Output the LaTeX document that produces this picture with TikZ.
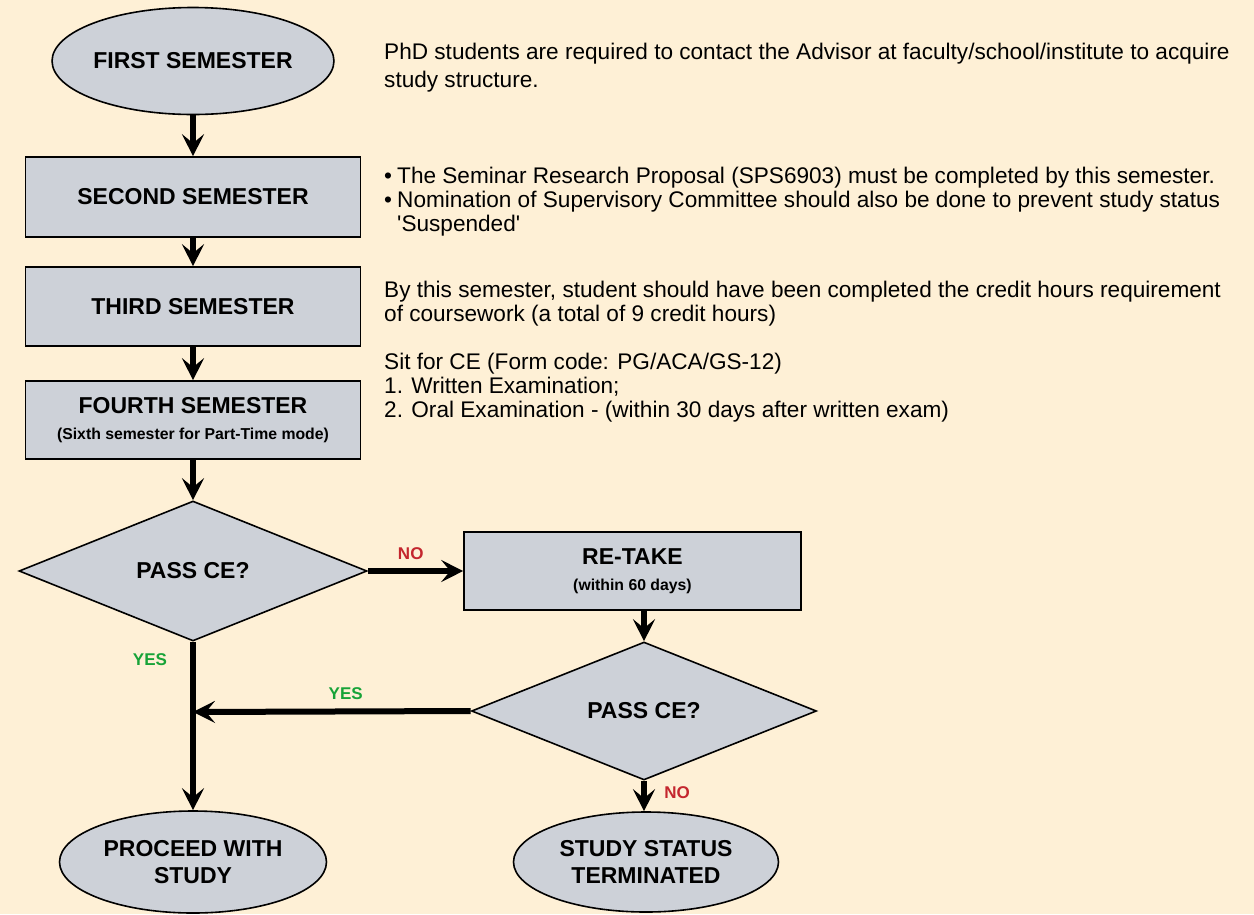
\documentclass[tikz,border=0pt]{standalone}
\usepackage{fontspec}
\setmainfont{Liberation Sans}
\usetikzlibrary{shapes.geometric,arrows.meta}
\definecolor{bgc}{HTML}{FEF0D6}
\definecolor{boxc}{HTML}{CDD1D8}
\definecolor{nored}{HTML}{C4262E}
\definecolor{yesgreen}{HTML}{17A338}
\tikzset{
  shapebase/.style={draw=black, fill=boxc, line width=1.6pt, inner sep=0pt, align=center, font=\bfseries\fontsize{23}{27}\selectfont},
  oval/.style={shapebase, ellipse},
  stepbox/.style={shapebase, rectangle, minimum width=335pt},
  decision/.style={shapebase, diamond, aspect=2.5},
  flow/.style={line width=6pt, -{Stealth[length=22pt,width=22pt,inset=9pt]}},
  note/.style={anchor=north west, inner sep=0pt, align=left, font=\fontsize{22.6}{24}\selectfont},
  nolabel/.style={text=nored, font=\bfseries\fontsize{17}{18}\selectfont},
  yeslabel/.style={text=yesgreen, font=\bfseries\fontsize{17}{18}\selectfont}
}
\newcommand{\subline}[1]{{\bfseries\fontsize{15.8}{18}\selectfont #1}}
\newcommand{\blt}{\makebox[13pt][l]{\textbullet}}
\begin{document}
\begin{tikzpicture}[x=1pt,y=-1pt]
\fill[bgc] (0,0) rectangle (1254,914);
\useasboundingbox (0,0) rectangle (1254,914);

\node[oval, minimum width=267pt, minimum height=107pt] (first) at (193,61) {FIRST SEMESTER};
\node[stepbox, minimum height=80pt] (second) at (193,197) {SECOND SEMESTER};
\node[stepbox, minimum height=79pt] (third) at (193,306.5) {THIRD SEMESTER};
\node[stepbox, minimum height=78pt] (fourth) at (193,420) {FOURTH SEMESTER\\[-1pt]\subline{(Sixth semester for Part-Time mode)}};
\node[decision, minimum width=348pt, minimum height=140pt] (d1) at (193,571) {PASS CE?};
\node[stepbox, minimum width=337pt, minimum height=78pt] (retake) at (632.5,571) {RE-TAKE\\[-1pt]\subline{(within 60 days)}};
\node[decision, minimum width=345pt, minimum height=138pt] (d2) at (644,711) {PASS CE?};
\node[oval, minimum width=267pt, minimum height=102pt] (proceed) at (193,862) {PROCEED WITH\\STUDY};
\node[oval, minimum width=265pt, minimum height=100pt] (term) at (646,862) {STUDY STATUS\\TERMINATED};
\coordinate (join) at (193,712);

\draw[flow] (first.south) -- (second.north);
\draw[flow] (second.south) -- (third.north);
\draw[flow] (third.south) -- (fourth.north);
\draw[flow] (fourth.south) -- (d1.north);
\draw[flow] (d1.east) -- node[nolabel, above=5pt, pos=0.45] {NO} (retake.west);
\draw[flow] (d2.north |- retake.south) -- (d2.north);
\draw[flow] (d2.west) -- node[yeslabel, above=5pt, pos=0.45] {YES} (join);
\draw[flow] (d1.south) -- (proceed.north);
\draw[flow] (d2.south) -- (d2.south |- term.north);
\node[yeslabel] (yes1) at (150,660) {YES};
\node[nolabel] (no2) at (677,793) {NO};

\node[note] (t1) at (384,43) {PhD students are required to contact the Advisor at faculty/school/institute to acquire\\[4pt]study structure.};
\node[note] (t2) at (384,167) {\blt The Seminar Research Proposal (SPS6903) must be completed by this semester.\\\blt Nomination of Supervisory Committee should also be done to prevent study status\\\hphantom{\blt}\textquotesingle Suspended\textquotesingle};
\node[note] (t3) at (384,281) {By this semester, student should have been completed the credit hours requirement\\of coursework (a total of 9 credit hours)};
\node[note] (t4) at (384,353) {Sit for CE (Form code: PG/ACA/GS-12)\\1. Written Examination;\\2. Oral Examination - (within 30 days after written exam)};
\end{tikzpicture}
\end{document}
